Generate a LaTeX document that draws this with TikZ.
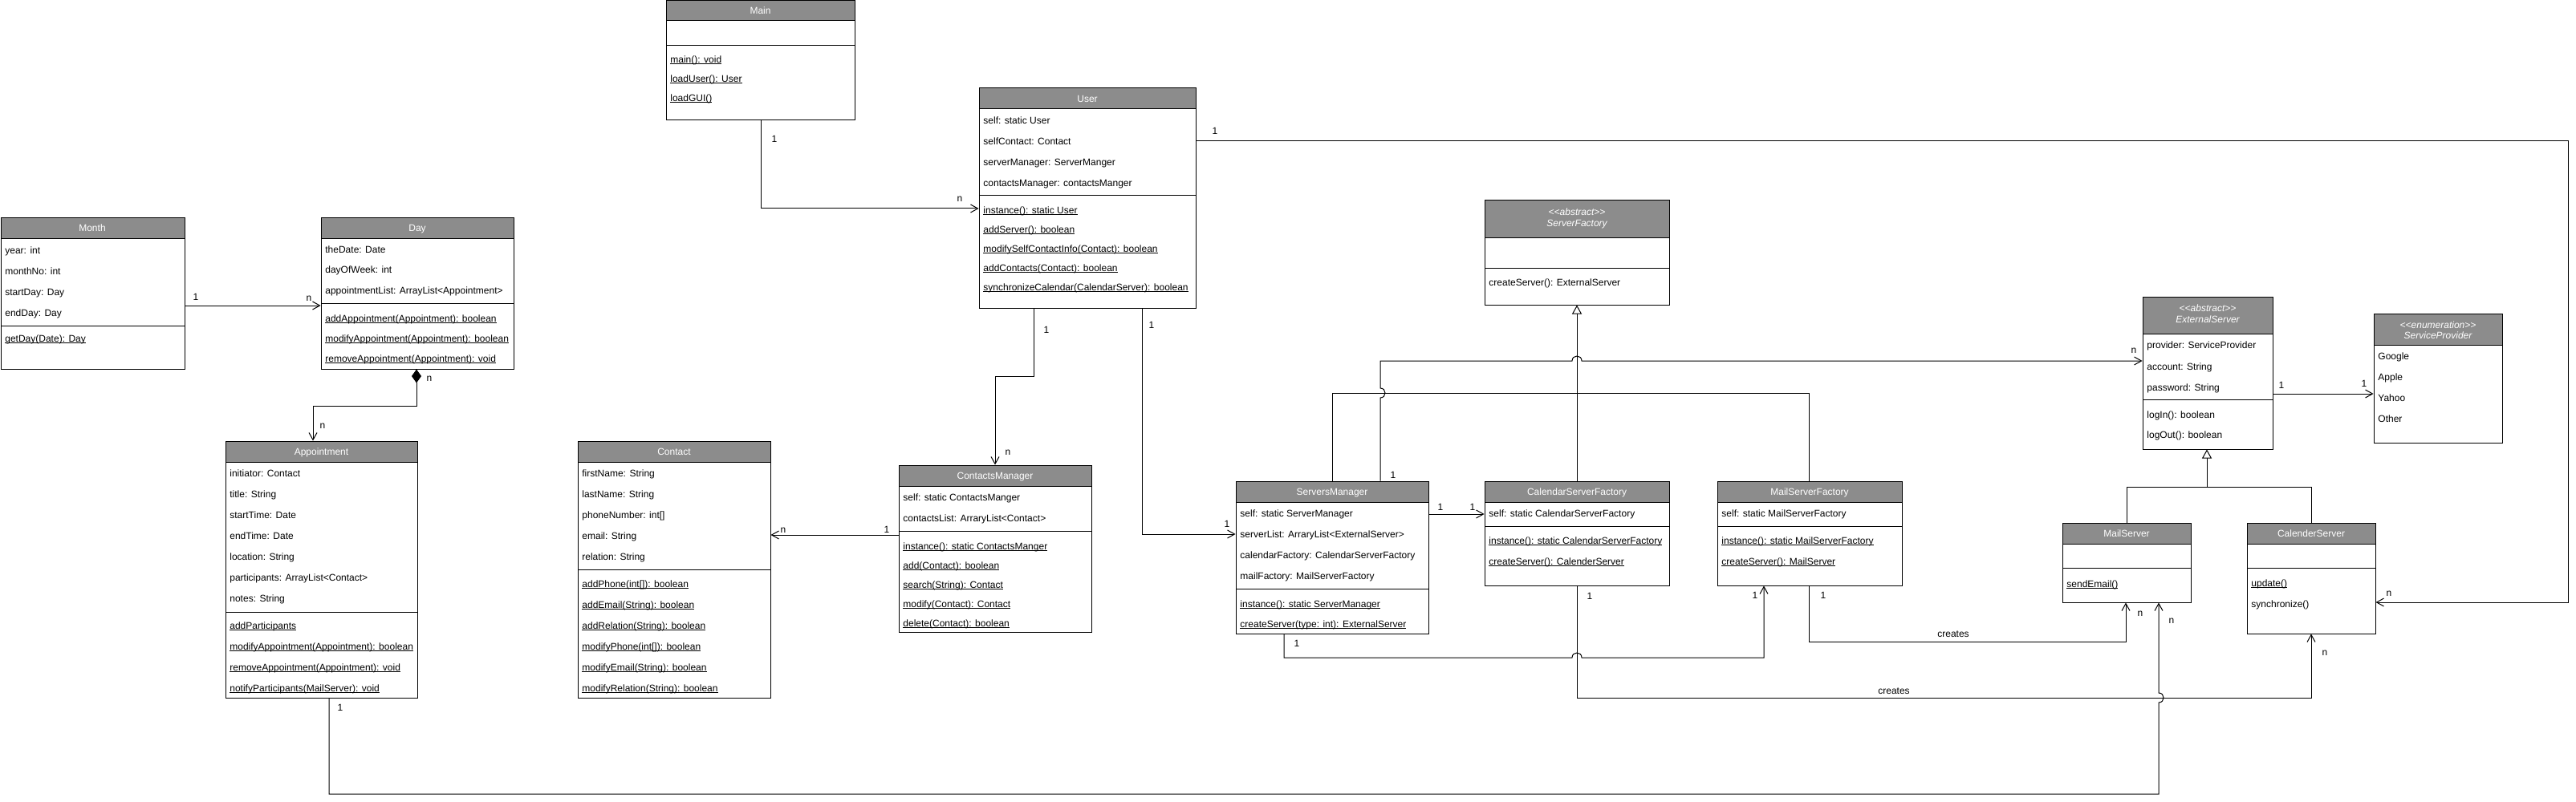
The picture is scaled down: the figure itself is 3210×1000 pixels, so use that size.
\documentclass[tikz,border=0pt]{standalone}
\usepackage{fontspec}
\setmainfont{Liberation Sans}
\usetikzlibrary{arrows.meta,fit}
\definecolor{headgray}{RGB}{140,140,140}
\newcommand\ul[1]{\setbox0\hbox{#1}\rlap{\rule[-0.9pt]{\wd0}{0.45pt}}\box0}
\newcommand\klass[7]{%
  \fill[headgray] (#2,#3) rectangle (#4,#6);
  \draw[line width=0.5pt] (#2,#6) -- (#4,#6);
  \draw[line width=0.5pt] (#2,#7) -- (#4,#7);
  \node[draw, line width=0.5pt, inner sep=0pt, fit={(#2,#3) (#4,#5)}] (#1) {};
}
\newcommand\rw[4]{\node[txt] (#1) at (#2,#3) {#4};}
\newcommand\hd[4]{\node[htxt] (#1) at (#2,#3) {#4};}
\newcommand\lb[4]{\node[lab] (#1) at (#2,#3) {#4};}
\tikzset{
  txt/.style={anchor=west, inner sep=0pt, text height=4.3pt, text depth=0pt, font=\fontsize{6}{7}\selectfont},
  htxt/.style={inner sep=0pt, text=white, text height=4.3pt, text depth=0pt, font=\fontsize{6}{7}\selectfont},
  lab/.style={inner sep=0pt, text height=4.3pt, text depth=0pt, font=\fontsize{6}{7}\selectfont},
  assoc/.style={line width=0.5pt, -{Straight Barb[length=4.5pt,width=5pt]}},
  gen/.style={line width=0.5pt, -{Triangle[open,length=5.5pt,width=6pt,fill=white]}},
  plainline/.style={line width=0.5pt},
  comp/.style={line width=0.5pt, {Diamond[length=8.5pt,width=6pt]}-{Straight Barb[length=4.5pt,width=5pt]}},
}
\begin{document}
\begin{tikzpicture}[x=0.5pt,y=-0.5pt]
\useasboundingbox (0,0) rectangle (3210,1000);
\fill[white] (0,0) rectangle (3210,1000);

% Main
\klass{main}{830}{1}{1065}{150}{26}{57}
\hd{mainh}{947.5}{13}{Main}
\rw{ma1}{835}{74}{\ul{main(): void}}
\rw{ma2}{835}{98}{\ul{loadUser(): User}}
\rw{ma3}{835}{122}{\ul{loadGUI()}}

% User
\klass{user}{1220}{110}{1490}{384}{136}{244}
\hd{userh}{1355}{123}{User}
\rw{us1}{1225}{150}{self: static User}
\rw{us2}{1225}{176}{selfContact: Contact}
\rw{us3}{1225}{202}{serverManager: ServerManger}
\rw{us4}{1225}{228}{contactsManager: contactsManger}
\rw{us5}{1225}{262}{\ul{instance(): static User}}
\rw{us6}{1225}{286}{\ul{addServer(): boolean}}
\rw{us7}{1225}{310}{\ul{modifySelfContactInfo(Contact): boolean}}
\rw{us8}{1225}{334}{\ul{addContacts(Contact): boolean}}
\rw{us9}{1225}{358}{\ul{synchronizeCalendar(CalendarServer): boolean}}

% Month
\klass{month}{1}{271}{230}{460}{297}{406}
\hd{monthh}{115}{284}{Month}
\rw{mo1}{6}{312}{year: int}
\rw{mo2}{6}{338}{monthNo: int}
\rw{mo3}{6}{364}{startDay: Day}
\rw{mo4}{6}{390}{endDay: Day}
\rw{mo5}{6}{422}{\ul{getDay(Date): Day}}

% Day
\klass{day}{400}{271}{640}{460}{297}{378}
\hd{dayh}{520}{284}{Day}
\rw{da1}{405}{311}{theDate: Date}
\rw{da2}{405}{336}{dayOfWeek: int}
\rw{da3}{405}{362}{appointmentList: ArrayList<Appointment>}
\rw{da4}{405}{397}{\ul{addAppointment(Appointment): boolean}}
\rw{da5}{405}{422}{\ul{modifyAppointment(Appointment): boolean}}
\rw{da6}{405}{447}{\ul{removeAppointment(Appointment): void}}

% Appointment
\klass{appt}{281}{550}{520}{870}{576}{763}
\hd{appth}{400.5}{563}{Appointment}
\rw{ap1}{286}{590}{initiator: Contact}
\rw{ap2}{286}{616}{title: String}
\rw{ap3}{286}{642}{startTime: Date}
\rw{ap4}{286}{668}{endTime: Date}
\rw{ap5}{286}{694}{location: String}
\rw{ap6}{286}{720}{participants: ArrayList<Contact>}
\rw{ap7}{286}{746}{notes: String}
\rw{ap8}{286}{780}{\ul{addParticipants}}
\rw{ap9}{286}{806}{\ul{modifyAppointment(Appointment): boolean}}
\rw{ap10}{286}{832}{\ul{removeAppointment(Appointment): void}}
\rw{ap11}{286}{858}{\ul{notifyParticipants(MailServer): void}}

% Contact
\klass{contact}{720}{550}{960}{870}{576}{710}
\hd{contacth}{840}{563}{Contact}
\rw{co1}{725}{590}{firstName: String}
\rw{co2}{725}{616}{lastName: String}
\rw{co3}{725}{642}{phoneNumber: int[]}
\rw{co4}{725}{668}{email: String}
\rw{co5}{725}{694}{relation: String}
\rw{co6}{725}{728}{\ul{addPhone(int[]): boolean}}
\rw{co7}{725}{754}{\ul{addEmail(String): boolean}}
\rw{co8}{725}{780}{\ul{addRelation(String): boolean}}
\rw{co9}{725}{806}{\ul{modifyPhone(int[]): boolean}}
\rw{co10}{725}{832}{\ul{modifyEmail(String): boolean}}
\rw{co11}{725}{858}{\ul{modifyRelation(String): boolean}}

% ContactsManager
\klass{cm}{1120}{580}{1360}{788}{606}{662}
\hd{cmh}{1240}{593}{ContactsManager}
\rw{cm1}{1125}{620}{self: static ContactsManger}
\rw{cm2}{1125}{646}{contactsList: ArraryList<Contact>}
\rw{cm3}{1125}{681}{\ul{instance(): static ContactsManger}}
\rw{cm4}{1125}{705}{\ul{add(Contact): boolean}}
\rw{cm5}{1125}{729}{\ul{search(String): Contact}}
\rw{cm6}{1125}{753}{\ul{modify(Contact): Contact}}
\rw{cm7}{1125}{777}{\ul{delete(Contact): boolean}}

% ServerFactory
\klass{sf}{1850}{250}{2080}{380}{296}{334}
\hd{sfh1}{1965}{264}{\itshape {<}{<}abstract{>}{>}}
\hd{sfh2}{1965}{278}{\itshape ServerFactory}
\rw{sf1}{1855}{352}{createServer(): ExternalServer}

% ServersManager
\klass{sm}{1540}{600}{1780}{790}{626}{734}
\hd{smh}{1660}{613}{ServersManager}
\rw{sm1}{1545}{640}{self: static ServerManager}
\rw{sm2}{1545}{666}{serverList: ArraryList<ExternalServer>}
\rw{sm3}{1545}{692}{calendarFactory: CalendarServerFactory}
\rw{sm4}{1545}{718}{mailFactory: MailServerFactory}
\rw{sm5}{1545}{753}{\ul{instance(): static ServerManager}}
\rw{sm6}{1545}{778}{\ul{createServer(type: int): ExternalServer}}

% CalendarServerFactory
\klass{csf}{1850}{600}{2080}{730}{626}{656}
\hd{csfh}{1965}{613}{CalendarServerFactory}
\rw{csf1}{1855}{640}{self: static CalendarServerFactory}
\rw{csf2}{1855}{674}{\ul{instance(): static CalendarServerFactory}}
\rw{csf3}{1855}{700}{\ul{createServer(): CalenderServer}}

% MailServerFactory
\klass{msf}{2140}{600}{2370}{730}{626}{656}
\hd{msfh}{2255}{613}{MailServerFactory}
\rw{msf1}{2145}{640}{self: static MailServerFactory}
\rw{msf2}{2145}{674}{\ul{instance(): static MailServerFactory}}
\rw{msf3}{2145}{700}{\ul{createServer(): MailServer}}

% ExternalServer
\klass{es}{2670}{370}{2832}{560}{416}{498}
\hd{esh1}{2751}{384}{\itshape {<}{<}abstract{>}{>}}
\hd{esh2}{2751}{398}{\itshape ExternalServer}
\rw{es1}{2675}{430}{provider: ServiceProvider}
\rw{es2}{2675}{457}{account: String}
\rw{es3}{2675}{483}{password: String}
\rw{es4}{2675}{517}{logIn(): boolean}
\rw{es5}{2675}{542}{logOut(): boolean}

% ServiceProvider
\fill[headgray] (2958,391) rectangle (3118,430);
\draw[line width=0.5pt] (2958,430) -- (3118,430);
\node[draw, line width=0.5pt, inner sep=0pt, fit={(2958,391) (3118,552)}] (sp) {};
\hd{sph1}{3038}{405}{\itshape {<}{<}enumeration{>}{>}}
\hd{sph2}{3038}{418}{\itshape ServiceProvider}
\rw{sp1}{2963}{444}{Google}
\rw{sp2}{2963}{470}{Apple}
\rw{sp3}{2963}{496}{Yahoo}
\rw{sp4}{2963}{522}{Other}

% MailServer
\klass{ms}{2570}{652}{2730}{751}{678}{708}
\hd{msh}{2650}{665}{MailServer}
\rw{ms1}{2575}{728}{\ul{sendEmail()}}

% CalenderServer
\klass{cal}{2800}{652}{2960}{790}{678}{708}
\hd{calh}{2880}{665}{CalenderServer}
\rw{cal1}{2805}{727}{\ul{update()}}
\rw{cal2}{2805}{753}{synchronize()}

% ---------- connectors ----------
\draw[assoc] (main.south -| 948,0) |- (user.west |- 0,260);
\lb{l1}{965}{173}{1}\lb{l2}{1196}{247}{n}

\draw[assoc] (month.east |- 0,381) -- (day.west |- 0,381);
\lb{l3}{244}{370}{1}\lb{l4}{385}{371}{n}

\draw[comp] (day.south -| 519,0) -- (519,506) -| (appt.north -| 390,0);
\lb{l5}{535}{471}{n}\lb{l6}{402}{530}{n}

\draw[assoc] (user.south -| 1288,0) -- (1288,469) -| (cm.north -| 1240,0);
\lb{l7}{1304}{411}{1}\lb{l8}{1256}{563}{n}

\draw[assoc] (cm.west |- 0,667) -- (contact.east |- 0,667);
\lb{l9}{976}{660}{n}\lb{l10}{1105}{660}{1}

\draw[assoc] (user.south -| 1423,0) |- (sm.west |- 0,666);
\lb{l11}{1435}{405}{1}\lb{l12}{1529}{653}{1}

\draw[assoc] (user.east |- 0,176) -- (3200,176) -- (3200,751) -- (cal.east |- 0,751);
\lb{l13}{1514}{163}{1}\lb{l14}{2977}{739}{n}

% generalization to ServerFactory
\draw[plainline] (sm.north -| 1660,0) -- (1660,490) -- (2254,490) -- (msf.north -| 2254,0);
\draw[gen] (csf.north -| 1965,0) -- (sf.south -| 1965,0);

\draw[assoc] (sm.north -| 1720,0) -- (1720,496) .. controls (1728,496) and (1728,484) .. (1720,484) -- (1720,450) -- (1959,450) .. controls (1959,442) and (1971,442) .. (1971,450) -- (es.west |- 0,450);
\lb{l15}{1736}{592}{1}\lb{l16}{2659}{436}{n}

\draw[assoc] (sm.east |- 0,641) -- (csf.west |- 0,641);
\lb{l17}{1795}{632}{1}\lb{l18}{1835}{632}{1}

\draw[assoc] (sm.south -| 1600,0) -- (1600,820) -- (1959,820) .. controls (1959,812) and (1971,812) .. (1971,820) -- (2198,820) -- (msf.south -| 2198,0);
\lb{l19}{1616}{802}{1}\lb{l20}{2187}{742}{1}

\draw[assoc] (msf.south -| 2254,0) -- (2254,800) -| (ms.south -| 2649,0);
\lb{l21}{2272}{742}{1}\lb{l22}{2667}{764}{n}\lb{l23}{2434}{790}{creates}

\draw[assoc] (csf.south -| 1965,0) -- (1965,870) -| (cal.south -| 2880,0);
\lb{l24}{1981}{743}{1}\lb{l25}{2897}{813}{n}\lb{l26}{2360}{861}{creates}

\draw[assoc] (appt.south -| 410,0) -- (410,990) -- (2690,990) -- (2690,876) .. controls (2698,876) and (2698,864) .. (2690,864) -- (ms.south -| 2690,0);
\lb{l27}{424}{882}{1}\lb{l28}{2706}{773}{n}

% generalization to ExternalServer
\draw[plainline] (ms.north -| 2650,0) |- (2880,607) -- (cal.north -| 2880,0);
\draw[gen] (2750,607) -- (es.south -| 2750,0);

\draw[assoc] (es.east |- 0,491) -- (sp.west |- 0,491);
\lb{l29}{2843}{480}{1}\lb{l30}{2946}{478}{1}
\end{tikzpicture}
\end{document}
